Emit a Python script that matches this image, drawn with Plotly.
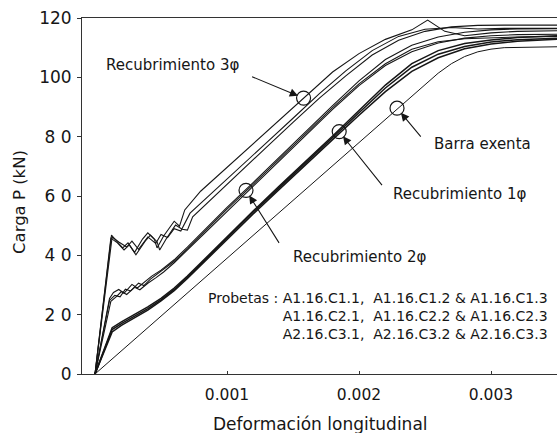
import plotly.graph_objects as go

# ---------------- data ----------------
# Barra exenta
barra_x = [0, 0.0023, 0.0024, 0.0025, 0.0026, 0.0027, 0.0028, 0.0029, 0.0030, 0.0031, 0.0033, 0.0035]
barra_y = [0, 89.8, 93.8, 97.8, 101.4, 104.6, 107.0, 108.6, 109.5, 110.0, 110.2, 110.3]

# Recubrimiento 1phi : A1.16.C1.1 / C1.2 / C1.3
c1_x = [0, 0.00013, 0.0002, 0.0003, 0.0004, 0.0005, 0.0006, 0.0007, 0.0008, 0.0009, 0.0010,
        0.0012, 0.0014, 0.0016, 0.0018, 0.0020, 0.0022, 0.0024, 0.0026, 0.0028, 0.0030, 0.0032, 0.0035]
c1_1_y = [0, 15.0, 17.0, 19.4, 22.0, 25.0, 28.5, 32.6, 37.0, 41.5, 46.0,
          54.6, 63.0, 71.3, 79.6, 88.0, 96.4, 103.4, 107.8, 110.4, 111.9, 112.7, 113.2]
c1_2_y = [0, 14.2, 16.4, 18.9, 21.5, 24.6, 28.1, 32.2, 36.6, 41.0, 45.5,
          54.0, 62.4, 70.8, 79.0, 87.2, 95.2, 102.0, 106.6, 109.6, 111.2, 112.2, 112.8]
c1_3_y = [0, 15.6, 17.6, 20.0, 22.6, 25.5, 29.0, 33.0, 37.4, 41.9, 46.4,
          55.0, 63.5, 71.8, 80.2, 88.8, 97.4, 104.6, 109.0, 111.4, 112.6, 113.4, 114.0]

# Recubrimiento 2phi : A1.16.C2.1 / C2.2 / C2.3
c2_1_x = [0, 0.00011, 0.00014, 0.00018, 0.00022, 0.00028, 0.00032, 0.00038, 0.00043, 0.0005, 0.0006,
          0.0007, 0.0008, 0.0010, 0.0012, 0.0014, 0.0016, 0.0018, 0.0020, 0.0022, 0.0024, 0.0026,
          0.0028, 0.0030, 0.0032, 0.0035]
c2_1_y = [0, 25.5, 27.5, 28.5, 27.2, 30.2, 29.0, 31.3, 33.0, 35.0, 38.5,
          42.8, 47.2, 56.2, 64.6, 73.2, 82.0, 90.5, 98.8, 106.0, 110.8, 113.6,
          115.2, 116.0, 116.3, 116.4]
c2_2_x = [0, 0.00012, 0.00016, 0.0002, 0.00024, 0.0003, 0.00034, 0.0004, 0.00046, 0.00052, 0.0006,
          0.0007, 0.0008, 0.0010, 0.0012, 0.0014, 0.0016, 0.0018, 0.0020, 0.0022, 0.0024, 0.0026,
          0.0028, 0.0030, 0.0032, 0.0035]
c2_2_y = [0, 24.5, 26.0, 27.8, 26.8, 29.2, 28.4, 30.6, 32.4, 34.4, 37.5,
          41.8, 46.2, 55.0, 63.4, 72.0, 80.6, 89.2, 97.2, 104.0, 108.6, 111.6,
          113.2, 114.0, 114.4, 114.5]
c2_3_x = [0, 0.00011, 0.00015, 0.00019, 0.00023, 0.00027, 0.00033, 0.00037, 0.00042, 0.00048, 0.00055,
          0.0006, 0.0007, 0.0008, 0.0010, 0.0012, 0.0014, 0.0016, 0.0018, 0.0020, 0.0022, 0.0024,
          0.0026, 0.0028, 0.0030, 0.0032, 0.0035]
c2_3_y = [0, 24.8, 26.5, 26.0, 28.6, 28.0, 30.6, 29.8, 32.0, 34.0, 36.4,
          38.0, 42.2, 46.6, 55.6, 64.0, 72.6, 81.2, 89.8, 97.8, 104.6, 109.5,
          112.0, 113.0, 113.4, 113.6, 113.8]

# Recubrimiento 3phi : A2.16.C3.1 / C3.2 / C3.3
c3_1_x = [0, 0.000125, 0.00016, 0.00021, 0.00025, 0.0003, 0.00036, 0.0004, 0.00045, 0.00047, 0.00052,
          0.0006, 0.00064, 0.00068, 0.0008, 0.0010, 0.0012, 0.0014, 0.0016, 0.0018, 0.0020, 0.0022,
          0.0024, 0.00252, 0.00265, 0.0028, 0.0030, 0.0032, 0.0035]
c3_1_y = [0, 46.8, 45.0, 42.5, 44.2, 41.0, 45.5, 47.6, 45.4, 42.5, 46.5,
          51.5, 49.8, 55.3, 61.6, 69.7, 77.8, 85.9, 94.0, 101.8, 108.0, 112.8,
          116.0, 119.3, 115.5, 114.0, 115.0, 115.5, 115.7]
c3_2_x = [0, 0.00012, 0.00017, 0.00022, 0.00026, 0.00031, 0.00038, 0.00042, 0.00047, 0.00049, 0.00054,
          0.00061, 0.00066, 0.0007, 0.00074, 0.0009, 0.0011, 0.0013, 0.0015, 0.0017, 0.0019, 0.0021,
          0.0023, 0.0025, 0.0027, 0.0029, 0.0031, 0.0033, 0.0035]
c3_2_y = [0, 45.8, 44.2, 41.8, 43.5, 40.2, 44.8, 46.8, 44.6, 41.8, 45.6,
          50.2, 48.8, 48.5, 53.0, 59.8, 68.2, 76.5, 84.8, 93.0, 100.5, 107.5,
          112.5, 115.5, 117.0, 117.5, 117.6, 117.7, 117.6]
c3_3_x = [0, 0.00013, 0.00018, 0.00024, 0.00028, 0.00033, 0.0004, 0.00046, 0.0005, 0.00055, 0.0006,
          0.00065, 0.00072, 0.0009, 0.0011, 0.0013, 0.0015, 0.0017, 0.0019, 0.0021, 0.0023, 0.0025,
          0.0027, 0.0029, 0.0031, 0.0033, 0.0035]
c3_3_y = [0, 46.2, 44.5, 42.8, 44.8, 42.0, 46.2, 44.0, 47.0, 46.0, 49.0,
          48.2, 54.2, 61.5, 69.8, 78.0, 86.2, 94.5, 102.2, 109.0, 113.8, 116.2,
          116.8, 116.3, 116.5, 116.6, 116.5]

# marked points (open circles) : 3phi, 2phi, 1phi, barra exenta
circle_x = [0.00158, 0.001144, 0.00185, 0.002288]
circle_y = [93.0, 61.9, 81.7, 89.6]

# labels
y_tickvals = [0, 20, 40, 60, 80, 100, 120]
y_ticktext = ["0", "2 0", "4 0", "6 0", "8 0", "100", "120"]
x_tickvals = [0.001, 0.002, 0.003]
x_ticktext = ["0.001", "0.002", "0.003"]
probetas_lines = [
    "Probetas : A1.16.C1.1,  A1.16.C1.2 & A1.16.C1.3",
    "A1.16.C2.1,  A1.16.C2.2 & A1.16.C2.3",
    "A2.16.C3.1,  A2.16.C3.2 & A2.16.C3.3",
]

# ---------------- layout geometry ----------------
W, H = 557, 433
ML, MR, MT, MB = 82, 0, 18, 59
X_RANGE = [-0.0000985, 0.0035]
Y_RANGE = [0, 120]
FONT = "DejaVu Sans"
INK = "#161616"


def px_to_paper_x(px):
    return (px - ML) / (W - ML - MR)


def py_to_paper_y(py):
    return (H - MB - py) / (H - MT - MB)


fig = go.Figure()


def add_line(x, y, width):
    fig.add_trace(go.Scatter(x=x, y=y, mode="lines", showlegend=False, hoverinfo="skip",
                             line=dict(color=INK, width=width)))


add_line(barra_x, barra_y, 1.0)
for yy in (c1_1_y, c1_2_y, c1_3_y):
    add_line(c1_x, yy, 1.5)
add_line(c2_1_x, c2_1_y, 1.1)
add_line(c2_2_x, c2_2_y, 1.1)
add_line(c2_3_x, c2_3_y, 1.1)
add_line(c3_1_x, c3_1_y, 1.1)
add_line(c3_2_x, c3_2_y, 1.1)
add_line(c3_3_x, c3_3_y, 1.1)

fig.add_trace(go.Scatter(x=circle_x, y=circle_y, mode="markers", showlegend=False, hoverinfo="skip",
                         marker=dict(symbol="circle-open", size=14, color=INK, line=dict(width=1.2))))

annotations = []
# text labels (pixel positions converted to paper coordinates)
labels = [
    ("Recubrimiento 3φ", 104, 65),
    ("Barra exenta", 432, 144),
    ("Recubrimiento 1φ", 391, 194),
    ("Recubrimiento 2φ", 291, 257),
]
for txt, px, py in labels:
    annotations.append(dict(text=txt, x=px_to_paper_x(px), y=py_to_paper_y(py), xref="paper", yref="paper",
                            xanchor="left", yanchor="middle", showarrow=False,
                            font=dict(family=FONT, size=15, color=INK)))

# arrows from label tails to circles (pixel offsets of the tail)
arrow_offsets = [(-53, -22), (34, 54), (44, 55), (25, 30)]
for (ax, ay), cx, cy in zip(arrow_offsets, circle_x, circle_y):
    annotations.append(dict(text="", x=cx, y=cy, xref="x", yref="y", ax=ax, ay=ay,
                            showarrow=True, arrowhead=2, arrowsize=1.5, arrowwidth=1.1,
                            arrowcolor=INK, standoff=6))

# specimen list as one right-aligned block
annotations.append(dict(text="<br>".join(probetas_lines), x=px_to_paper_x(550), y=py_to_paper_y(316),
                        xref="paper", yref="paper", xanchor="right", yanchor="middle", align="right",
                        showarrow=False, font=dict(family=FONT, size=14, color=INK)))

# axis titles
annotations.append(dict(text="Carga P (kN)", x=px_to_paper_x(20), y=py_to_paper_y(202),
                        xref="paper", yref="paper",
                        textangle=-90, showarrow=False, xanchor="center", yanchor="middle",
                        font=dict(family=FONT, size=16.5, color=INK)))
annotations.append(dict(text="Deformación longitudinal", x=px_to_paper_x(320), y=py_to_paper_y(424),
                        xref="paper", yref="paper",
                        showarrow=False, xanchor="center", yanchor="middle",
                        font=dict(family=FONT, size=17, color=INK)))

fig.update_layout(
    width=W, height=H,
    margin=dict(l=ML, r=MR, t=MT, b=MB, pad=0),
    paper_bgcolor="white", plot_bgcolor="white",
    showlegend=False,
    annotations=annotations,
    font=dict(family=FONT, color=INK),
)
fig.update_xaxes(range=X_RANGE, showgrid=False, zeroline=False, showline=True, linecolor="#333",
                 linewidth=1, mirror=True, ticks="inside", ticklen=3, tickcolor="#333",
                 tickvals=x_tickvals, ticktext=x_ticktext,
                 tickfont=dict(family=FONT, size=15.5, color=INK), ticklabelstandoff=6)
fig.update_yaxes(range=Y_RANGE, showgrid=False, zeroline=False, showline=True, linecolor="#333",
                 linewidth=1, mirror=True, ticks="outside", ticklen=4, tickcolor="#333",
                 tickvals=y_tickvals, ticktext=y_ticktext,
                 tickfont=dict(family=FONT, size=17, color=INK), ticklabelstandoff=2)

fig.write_html("out.html")
